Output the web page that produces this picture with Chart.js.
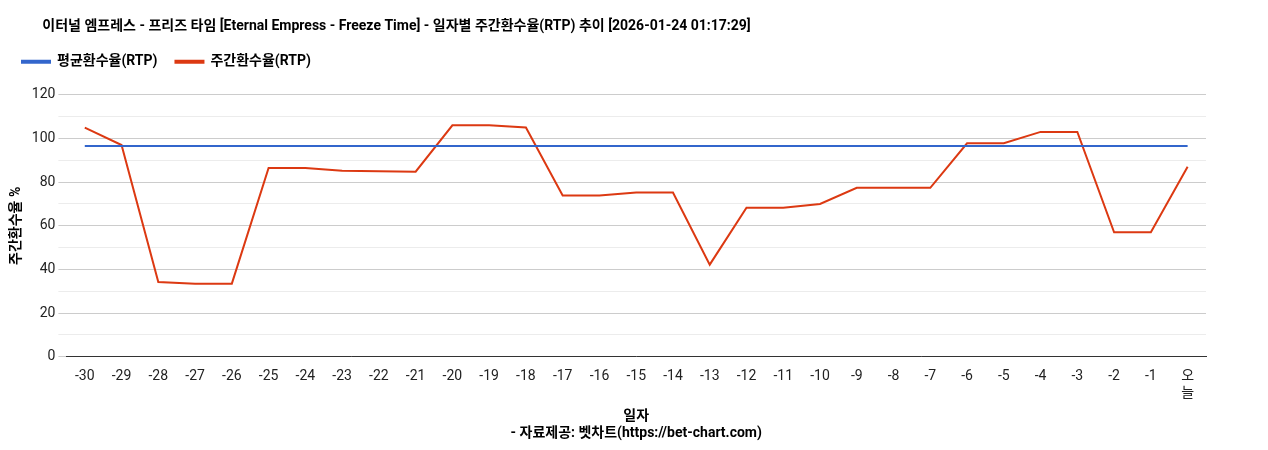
<!DOCTYPE html>
<html><head><meta charset="utf-8">
<script src="https://cdn.jsdelivr.net/npm/chart.js@4"></script>
<style>html,body{margin:0;padding:0;background:#fff}#w{width:1268px;height:450px}</style>
</head><body><div id="w"><canvas id="c"></canvas></div>
<script>
const categories=['-30','-29','-28','-27','-26','-25','-24','-23','-22','-21','-20','-19','-18','-17','-16','-15','-14','-13','-12','-11','-10','-9','-8','-7','-6','-5','-4','-3','-2','-1',['오','늘']];
const weeklyRtp=[105,97,34.3,33.5,33.5,86.5,86.5,85.2,85,84.8,106,106,105,73.9,73.9,75.2,75.2,42.2,68.3,68.3,70,77.4,77.4,77.4,97.8,97.8,103,103,57,57,87];
const avgRtp=categories.map(()=>96.5);
const F='Roboto, "Noto Sans CJK KR", sans-serif';
const legendPad={id:'legendPad',beforeInit(chart){const orig=chart.legend.fit;chart.legend.fit=function(){orig.bind(chart.legend)();this.height+=16;};}};
new Chart(document.getElementById('c'),{type:'line',
data:{labels:categories,datasets:[
{label:'평균환수율(RTP)',data:avgRtp,borderColor:'#3366cc',backgroundColor:'#3366cc',borderWidth:2,pointRadius:0,tension:0},
{label:'주간환수율(RTP)',data:weeklyRtp,borderColor:'#dc3912',backgroundColor:'#dc3912',borderWidth:2,pointRadius:0,tension:0}]},
plugins:[legendPad],
options:{responsive:true,maintainAspectRatio:false,animation:false,
layout:{padding:{left:4,right:62,top:18,bottom:4}},
plugins:{title:{display:true,text:'           이터널 엠프레스 - 프리즈 타임 [Eternal Empress - Freeze Time] - 일자별 주간환수율(RTP) 추이 [2026-01-24 01:17:29]',align:'start',color:'#000',font:{family:F,size:14,weight:'bold'},padding:{top:0,bottom:2}},
legend:{align:'start',labels:{boxWidth:28,boxHeight:2,color:'#000',padding:18,font:{family:F,size:14,weight:'bold'}}},tooltip:{enabled:false}},
scales:{x:{offset:true,grid:{display:false},border:{color:'#333'},ticks:{color:'#222',maxRotation:0,autoSkip:false,font:{family:F,size:14}},
title:{display:true,text:['일자','- 자료제공: 벳차트(https://bet-chart.com)'],color:'#000',font:{family:F,size:14,weight:'bold'},padding:{top:4}}},
y:{min:0,max:120,border:{display:false},ticks:{stepSize:10,color:'#222',font:{family:F,size:14},callback:v=>v%20===0?v:''},
grid:{color:c=>c.tick.value%20===0?'#cccccc':'#ececec'},
title:{display:true,text:'주간환수율 %',color:'#000',font:{family:F,size:14,weight:'bold'}}}}}});
</script></body></html>
